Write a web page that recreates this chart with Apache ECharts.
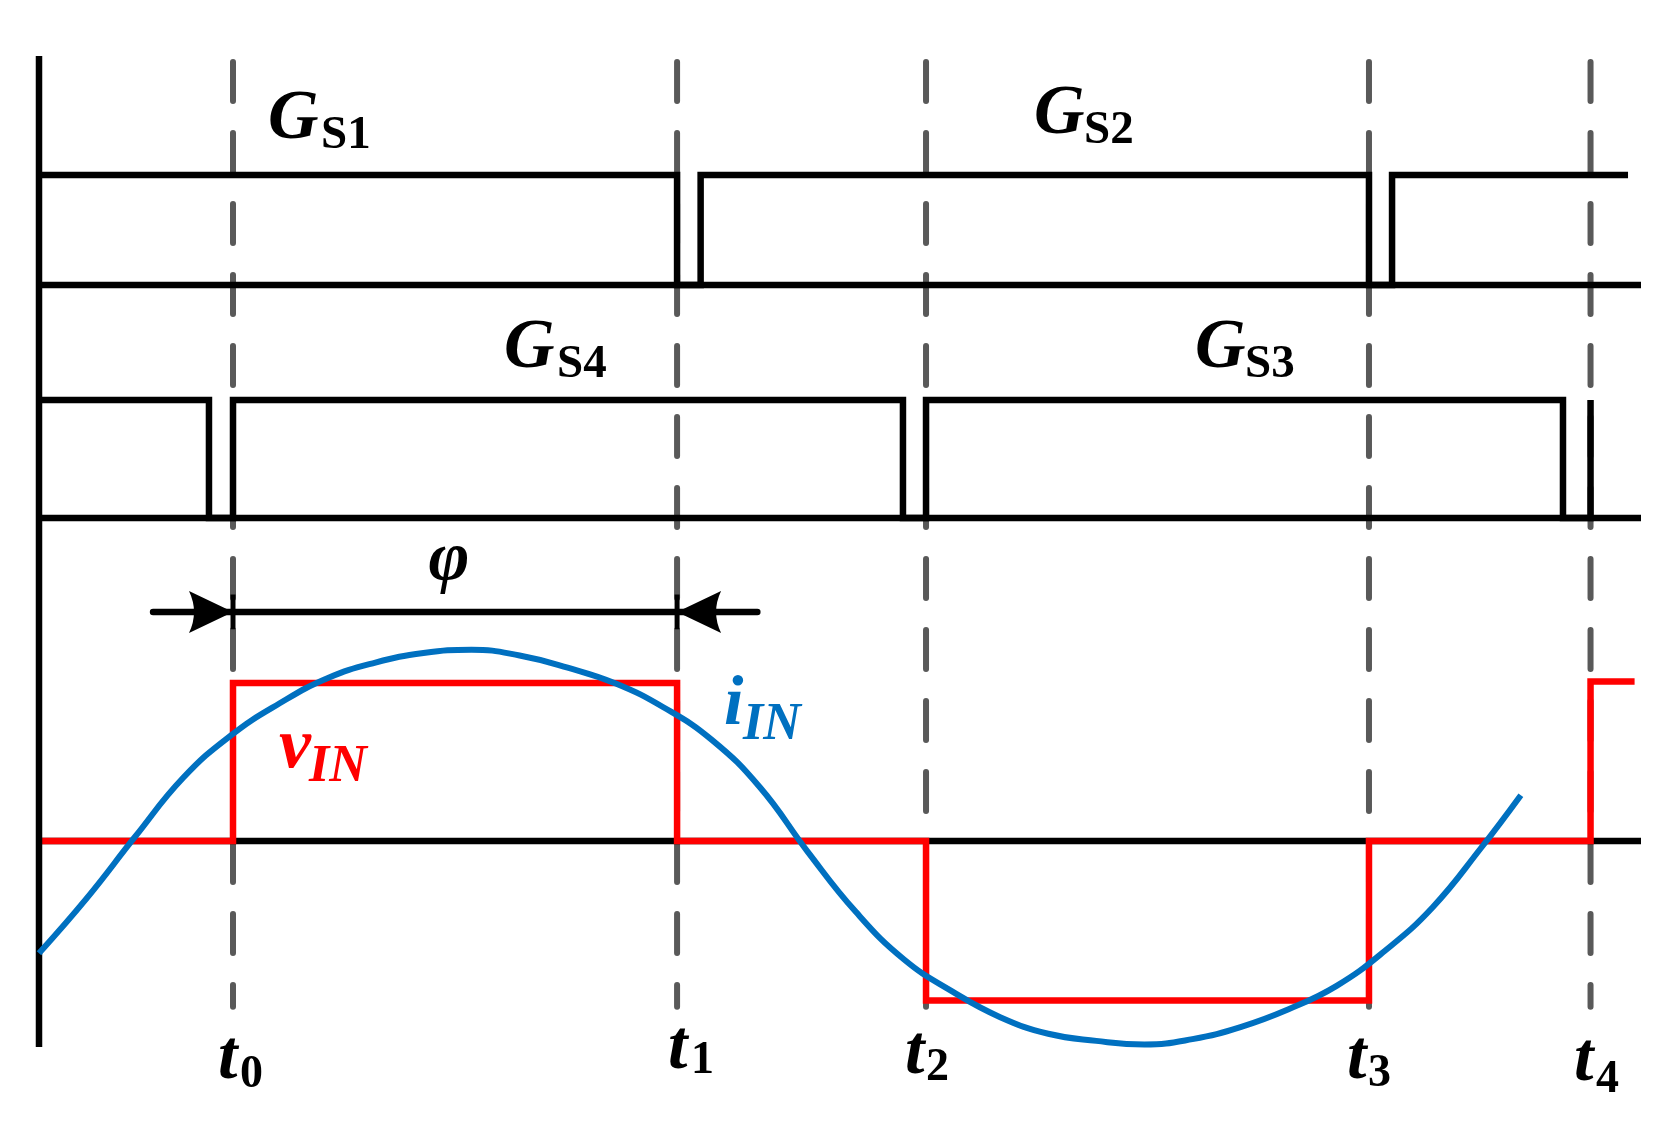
<!DOCTYPE html>
<html>
<head>
<meta charset="utf-8">
<title>GS timing / vIN iIN</title>
<style>
  html, body { margin: 0; padding: 0; background: #fff; }
  #main { width: 1670px; height: 1142px; }
</style>
<script src="https://cdn.jsdelivr.net/npm/echarts@6/dist/echarts.min.js"></script>
</head>
<body>
<div id="main"></div>
<script>
// switching instants t0..t4 (time axis runs 0..100)
var tNames = ['0', '1', '2', '3', '4'];
var tPos = [12.11, 39.83, 55.37, 83.02, 96.85];

// gate row 1 : GS1 then GS2
var gs12T = [0, 39.83, 39.83, 41.3, 41.3, 83.02, 83.02, 84.46, 84.46, 99.19];
var gs12L = [1, 1, 0, 0, 1, 1, 0, 0, 1, 1];

// gate row 2 : GS4 then GS3
var gs43T = [0, 10.61, 10.61, 12.11, 12.11, 53.93, 53.93, 55.37, 55.37, 95.13, 95.13, 96.85, 96.85];
var gs43L = [1, 1, 0, 0, 1, 1, 0, 0, 1, 1, 0, 0, 1];

// input voltage vIN
var vinT = [0, 12.11, 12.11, 39.83, 39.83, 55.37, 55.37, 83.02, 83.02, 96.85, 96.85, 99.6];
var vinV = [0, 0, 1, 1, 0, 0, -1.01, -1.01, 0, 0, 1.01, 1.01];

// input current iIN, every 3 time units
var iinT = [0, 3, 6, 9, 12, 15, 18, 21, 24, 27, 30, 33, 36, 39, 42, 45,
            48, 51, 54, 57, 60, 63, 66, 69, 72, 75, 78, 81, 84, 87, 90, 92.5];
var iinV = [-0.71, -0.36, 0.027, 0.4, 0.67, 0.87, 1.03, 1.129, 1.19, 1.211, 1.174, 1.097, 0.997, 0.845, 0.64, 0.34,
            -0.07, -0.45, -0.75, -0.952, -1.115, -1.22, -1.265, -1.288, -1.254, -1.178, -1.065, -0.917, -0.696, -0.419, -0.046, 0.29];

// phase shift arrow (tails, level)
var phiTail = [7.12, 44.84];
var phiLevel = 1.45;

function zip(a, b) {
  return a.map(function (v, i) { return [v, b[i]]; });
}

var myChart = echarts.init(document.getElementById('main'));

var black = '#000';
var LW = 6.5;

function seg(grid, data, color, width, z, extra) {
  var s = {
    type: 'line',
    xAxisIndex: grid,
    yAxisIndex: grid,
    data: data,
    symbol: 'none',
    clip: false,
    silent: true,
    z: z,
    animation: false,
    lineStyle: { color: color, width: width, join: 'miter', cap: 'butt' }
  };
  if (extra) {
    for (var k in extra) s[k] = extra[k];
  }
  return s;
}

var series = [];

// dashed markers at t0..t4
tPos.forEach(function (t) {
  series.push({
    type: 'line', xAxisIndex: 0, yAxisIndex: 0,
    data: [[t, 0.997], [t, 0.02]],
    symbol: 'none', clip: false, silent: true, z: 1, animation: false,
    lineStyle: { color: '#595959', width: 6, type: [39, 32], cap: 'round' }
  });
});

// left vertical axis
series.push(seg(0, [[0, 1.003], [0, -0.0217]], black, LW, 6));

// base lines
series.push(seg(1, [[0, 0], [100, 0]], black, LW, 3));
series.push(seg(2, [[0, 0], [100, 0]], black, LW, 3));
series.push(seg(3, [[0, 0], [100, 0]], black, LW, 3));

// gate signals
series.push(seg(1, zip(gs12T, gs12L), black, LW, 4));
series.push(seg(2, zip(gs43T, gs43L), black, LW, 4));

// vIN and iIN
series.push(seg(3, zip(vinT, vinV), '#ff0000', 6.5, 5));
series.push(seg(3, zip(iinT, iinV), '#0070c0', 6, 6, { smooth: 0.45 }));

// phi dimension line
series.push(seg(3, [[phiTail[0], phiLevel], [phiTail[1], phiLevel]], black, 6.5, 7, { lineStyle: { color: black, width: 6.5, cap: 'round' } }));
series.push(seg(3, [[tPos[0], 1.56], [tPos[0], 1.34]], black, 5, 7));
series.push(seg(3, [[tPos[1], 1.56], [tPos[1], 1.34]], black, 5, 7));

// arrow heads
series.push({
  type: 'scatter', xAxisIndex: 3, yAxisIndex: 3,
  silent: true, z: 8, animation: false, clip: false,
  itemStyle: { color: black, opacity: 1 },
  data: [
    { value: [tPos[0], phiLevel], symbol: 'path://M0,0 L44,21 L0,42 Q10,21 0,0 Z', symbolSize: [44, 42], symbolOffset: [-22, 0] },
    { value: [tPos[1], phiLevel], symbol: 'path://M44,0 L0,21 L44,42 Q34,21 44,0 Z', symbolSize: [44, 42], symbolOffset: [22, 0] }
  ]
});

var mainFont = "bold italic 70px 'Liberation Serif'";
var subFont = "bold 47px 'Liberation Serif'";
var subItFont = "bold italic 52px 'Liberation Serif'";

function txt(x, y, s, font, color, align) {
  return {
    type: 'text', x: x, y: y, z: 100, silent: true,
    style: { text: s, font: font, fill: color || black, align: align || 'left', verticalAlign: 'middle' }
  };
}

var graphics = [
  txt(268, 120, 'G', mainFont), txt(321, 136, 'S1', subFont),
  txt(1034, 115, 'G', mainFont), txt(1084, 131, 'S2', subFont),
  txt(504, 349, 'G', mainFont), txt(557, 365, 'S4', subFont),
  txt(1195, 349, 'G', mainFont), txt(1245, 365, 'S3', subFont),
  txt(449, 561, '\u03c6', "bold italic 70px 'Liberation Serif'", black, 'center'),
  txt(279, 748, 'v', "bold italic 72px 'Liberation Serif'", '#ff0000'),
  txt(309, 768, 'IN', subItFont, '#ff0000'),
  txt(724, 706, 'i', "bold italic 70px 'Liberation Serif'", '#0070c0'),
  txt(743, 726, 'IN', subItFont, '#0070c0')
];

// t labels
var tLab = [[218, 1060, 240, 1075], [668, 1050, 691, 1061], [905, 1055, 926, 1068], [1347, 1060, 1368, 1074], [1574, 1062, 1596, 1080]];
tLab.forEach(function (p, i) {
  graphics.push(txt(p[0], p[1], 't', mainFont));
  graphics.push(txt(p[2], p[3], tNames[i], "bold 46px 'Liberation Serif'"));
});

function ax(i, min, max) {
  return { type: 'value', gridIndex: i, min: min, max: max, show: false };
}

var option = {
  backgroundColor: '#fff',
  animation: false,
  grid: [
    { left: 39, right: 29, top: 59, height: 967 },
    { left: 39, right: 29, top: 175, height: 110 },
    { left: 39, right: 29, top: 400, height: 118 },
    { left: 39, right: 29, top: 572.4, height: 521.4 }
  ],
  xAxis: [ax(0, 0, 100), ax(1, 0, 100), ax(2, 0, 100), ax(3, 0, 100)],
  yAxis: [ax(0, 0, 1), ax(1, 0, 1), ax(2, 0, 1), ax(3, -1.6, 1.7)],
  series: series,
  graphic: graphics
};

myChart.setOption(option);
window.addEventListener('resize', function () {
  myChart.resize();
});
</script>
</body>
</html>
